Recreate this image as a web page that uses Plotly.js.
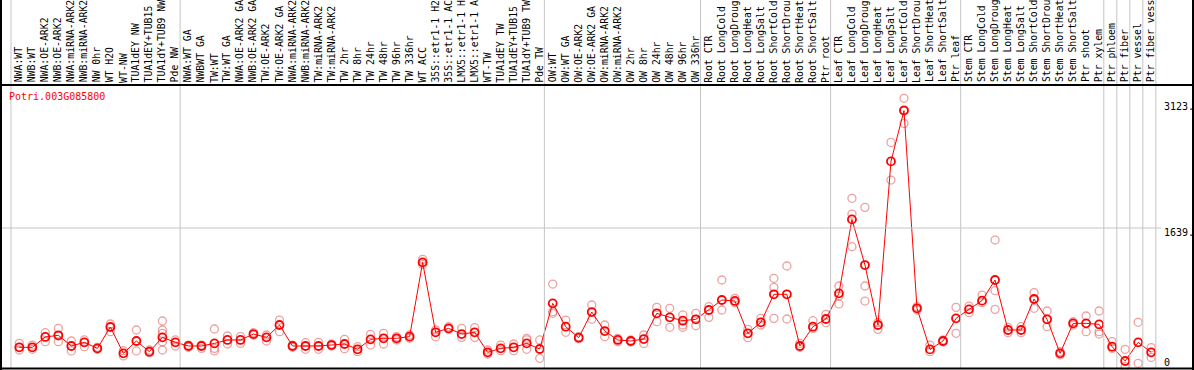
<!DOCTYPE html>
<html>
<head>
<meta charset="utf-8">
<script src="https://cdn.plot.ly/plotly-3.0.1.min.js"></script>
<style>
html,body{margin:0;padding:0;background:#fff;}
#chart{width:1194px;height:370px;}
</style>
</head>
<body>
<div id="chart"></div>
<script>
var geneName = "Potri.003G085800";

var sampleLabels = [
"NWA:WT","NWB:WT","NWA:OE-ARK2","NWB:OE-ARK2","NWA:miRNA-ARK2","NWB:miRNA-ARK2","NW 0hr","WT H2O","WT-NW","TUA1dEY NW","TUA1dEY+TUB15 ","TUA1dY+TUB9 NW","Pde NW",
"NWA:WT GA","NWBWT GA","TW:WT","TW:WT GA","NWA:OE-ARK2 GA","NWB:OE-ARK2 GA","TW:OE-ARK2","TW:OE-ARK2 GA","NWA:miRNA-ARK2","NWB:miRNA-ARK2","TW:miRNA-ARK2","TW:miRNA-ARK2","TW 2hr","TW 8hr","TW 24hr","TW 48hr","TW 96hr","TW 336hr","WT ACC","35S::etr1-1 H2","35S::etr1-1 AC","LMX5::etr1-1 H","LMX5::etr1-1 A","WT-TW","TUA1dEY TW","TUA1dEY+TUB15 ","TUA1dY+TUB9 TW","Pde TW",
"OW:WT","OW:WT GA","OW:OE-ARK2","OW:OE-ARK2 GA","OW:miRNA-ARK2","OW:miRNA-ARK2","OW 2hr","OW 8hr","OW 24hr","OW 48hr","OW 96hr","OW 336hr",
"Root CTR","Root LongCold","Root LongDroug","Root LongHeat","Root LongSalt","Root ShortCold","Root ShortDrou","Root ShortHeat","Root ShortSalt","Ptr root",
"Leaf CTR","Leaf LongCold","Leaf LongDroug","Leaf LongHeat","Leaf LongSalt","Leaf ShortCold","Leaf ShortDrou","Leaf ShortHeat","Leaf ShortSalt","Ptr leaf",
"Stem CTR","Stem LongCold","Stem LongDroug","Stem LongHeat","Stem LongSalt","Stem ShortCold","Stem ShortDrou","Stem ShortHeat","Stem ShortSalt","Ptr shoot","Ptr xylem",
"Ptr phloem","Ptr fiber","Ptr vessel","Ptr fiber vess"
];

// mean expression per sample
var meanValues = [
131,131,262,283,148,194,118,388,55,211,76,257,194,
148,148,181,224,224,299,257,413,148,148,148,160,173,106,232,245,245,266,1205,321,371,299,321,68,118,131,181,110,
687,392,253,577,337,224,211,236,561,510,468,485,
603,729,717,308,447,801,801,148,392,489,
813,1748,1171,413,2481,3123,624,105,211,497,
611,721,982,350,350,742,485,55,434,434,421,
139,-42,194,68
];

// individual replicate values per sample
var replicateValues = [
[181,97],[160,106],[316,203],[371,203,275],[211,85],[224,139],[131,106],[426,329],[89,22],[350,85],[97,64],[464,350,308,203,97],[224,148],
[160,131],[160,118],[363,118,85],[274,173],[266,181],[316,287],[287,211],[476,329],[160,131],[190,106],[194,106],[173,148],[232,114],[139,76],[295,160],[308,173],[266,224],[287,245],[1243,1179],[350,266],[392,358],[371,257],[380,257],[97,47],[160,89],[173,89],[245,224,106],[224,-8],
[931,582,561],[476,321],[266,240],[666,485],[413,266],[245,203],[224,198],[287,181],[636,455],[624,384],[540,413,384],[561,405],
[645,510],[982,603],[750,696],[358,253],[497,413],[1003,889,497],[1159,489],[182,131],[468,371],[548,443],
[906,679,780],[2014,1815,1403],[1900,906,716],[443,358],[2721,2245],[3278,2961,3130],[603,645],[160,76],[224,198],[636,308],
[653,569],[792,695],[1487,847,611],[384,316],[392,316],[822,624],[590,392],[76,35],[455,413],[527,329],[590,329,299],
[203,118],[106,-114],[447,-71],[127,4]
];

var yTickVals = [0, 1639, 3123];
var yTickText = ["0", "1639.", "3123."];
var groupEnds = [-1, 12, 40, 52, 62, 72, 83, 84, 85, 86, 87];

var idx = sampleLabels.map(function(_, i){ return i; });
var repX = [], repY = [];
replicateValues.forEach(function(arr, i){
  arr.forEach(function(v){ repX.push(i); repY.push(v); });
});

var mono = "DejaVu Sans Mono, Liberation Mono, monospace";

var traces = [
  {
    type: "scatter", mode: "markers", x: repX, y: repY, cliponaxis: false,
    marker: {symbol: "circle-open", size: 8, color: "rgba(228,110,110,0.65)", line: {width: 1.3}},
    hoverinfo: "skip", showlegend: false
  },
  {
    type: "scatter", mode: "lines+markers", x: idx, y: meanValues, cliponaxis: false,
    line: {color: "#ff0000", width: 1},
    marker: {symbol: "circle-open", size: 8, color: "#ff0000", line: {width: 1.8}},
    showlegend: false
  }
];

var W = 1194, H = 370, mL = 1, mR = 1, mT = 85, mB = 2;
var plotW = W - mL - mR, plotH = H - mT - mB;
function px2paperY(py){ return (H - mB - py) / plotH; }
function px2paperX(px){ return (px - mL) / plotW; }

var shapes = [];
groupEnds.forEach(function(g){
  shapes.push({type: "line", xref: "x", yref: "paper", x0: g + 0.36, x1: g + 0.36,
    y0: px2paperY(368), y1: px2paperY(0), line: {color: "#c4c4c4", width: 1}});
});
shapes.push({type: "line", xref: "paper", yref: "y", x0: 0, x1: px2paperX(1161), y0: 1639, y1: 1639,
  line: {color: "#c4c4c4", width: 1}});
// frame
shapes.push({type: "line", xref: "paper", yref: "paper", x0: px2paperX(0), x1: px2paperX(1194), y0: 1, y1: 1, line: {color: "#000", width: 2}});
shapes.push({type: "line", xref: "paper", yref: "paper", x0: px2paperX(0), x1: px2paperX(1194), y0: px2paperY(368.5), y1: px2paperY(368.5), line: {color: "#000", width: 2}});
shapes.push({type: "line", xref: "paper", yref: "paper", x0: px2paperX(1), x1: px2paperX(1), y0: px2paperY(370), y1: px2paperY(0), line: {color: "#000", width: 2}});
shapes.push({type: "line", xref: "paper", yref: "paper", x0: px2paperX(1193), x1: px2paperX(1193), y0: px2paperY(370), y1: px2paperY(0), line: {color: "#000", width: 2}});

var annotations = [];
sampleLabels.forEach(function(lab, i){
  annotations.push({x: i, xref: "x", y: px2paperY(83.5), yref: "paper", text: lab.replace(/ /g, "&nbsp;"),
    textangle: -90, xanchor: "center", yanchor: "bottom", showarrow: false, borderpad: 0,
    font: {family: mono, size: 9.8, color: "#000"}});
});
annotations.push({x: px2paperX(8), xref: "paper", y: px2paperY(97), yref: "paper", text: geneName,
  xanchor: "left", yanchor: "middle", showarrow: false, borderpad: 0,
  font: {family: mono, size: 10, color: "#ff0000"}});
var tickShift = [-4.3, -4.8, 3.6];
yTickVals.forEach(function(v, k){
  annotations.push({x: px2paperX(1163), xref: "paper", y: v, yref: "y", text: yTickText[k],
    xanchor: "left", yanchor: "middle", yshift: tickShift[k], showarrow: false, borderpad: 0,
    font: {family: mono, size: 10, color: "#000"}});
});

var layout = {
  width: W, height: H,
  margin: {l: mL, r: mR, t: mT, b: mB, pad: 0},
  paper_bgcolor: "#fff", plot_bgcolor: "#fff",
  xaxis: {range: [(mL - 19.3) / 13.01, (W - mR - 19.3) / 13.01], showgrid: false, zeroline: false,
    showticklabels: false, showline: false, ticks: ""},
  yaxis: {range: [(357.7 - (H - mB)) / 0.07913, (357.7 - mT) / 0.07913], showgrid: false, zeroline: false,
    showticklabels: false, showline: false, ticks: ""},
  shapes: shapes,
  annotations: annotations,
  showlegend: false
};

Plotly.newPlot("chart", traces, layout, {displayModeBar: false, staticPlot: true});
</script>
</body>
</html>
